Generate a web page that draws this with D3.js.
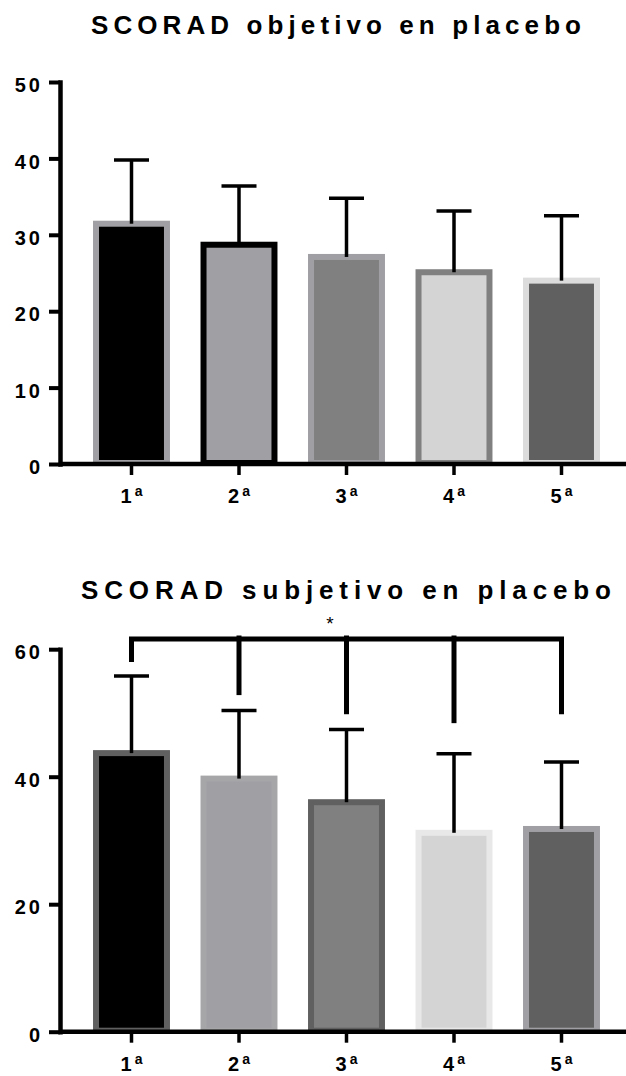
<!DOCTYPE html>
<html lang="es">
<head>
  <meta charset="UTF-8">
  <title>SCORAD en placebo</title>
  <script src="https://d3js.org/d3.v7.min.js"></script>
  <style>
    body { margin: 0; background: #fff; }
    text { font-family: 'Liberation Sans', Arial, sans-serif; }
  </style>
</head>
<body>
  <div id="root"></div>
  <script>
    // visitas
    const visits = ['1', '2', '3', '4', '5']

    // SCORAD objetivo (media, DE)
    const objMean = [31.45, 28.7, 27.1, 25.1, 24.0]
    const objSD = [8.35, 7.7, 7.7, 8.0, 8.5]
    const objTicks = [0, 10, 20, 30, 40, 50]

    // SCORAD subjetivo (media, DE)
    const subMean = [43.7, 39.7, 36.0, 31.2, 31.8]
    const subSD = [12.1, 10.7, 11.4, 12.4, 10.5]
    const subTicks = [0, 20, 40, 60]

    // corchete de significación: nivel y final de cada brazo
    const bracketLevel = 61.6
    const bracketEnds = [58.0, 52.8, 49.8, 48.4, 49.8]

    // colores (relleno / borde)
    const objFill = ['#000000', '#a0a0a4', '#808080', '#d4d4d4', '#606060']
    const objStroke = ['#a0a0a4', '#000000', '#a0a0a4', '#808080', '#dcdcdc']
    const subFill = ['#000000', '#a0a0a4', '#808080', '#d4d4d4', '#606060']
    const subStroke = ['#606060', '#a6a6a9', '#606060', '#e8e8e8', '#a0a0a4']

    const width = 626, height = 1076
    const axisX = 60

    const svg = d3.select('#root')
      .append('svg')
      .attr('width', width)
      .attr('height', height)

    const x = d3.scaleBand()
      .domain(visits)
      .range([77.75, 615.25])
      .paddingInner(0.34)
      .paddingOuter(0.17)

    function drawChart(cfg) {
      const y = d3.scaleLinear().domain([0, cfg.max]).range([cfg.bottom, cfg.top])
      const g = svg.append('g')

      // título
      g.append('text')
        .attr('x', cfg.titleX)
        .attr('y', cfg.titleY)
        .attr('text-anchor', 'middle')
        .attr('font-size', 26)
        .attr('font-weight', 'bold')
        .attr('textLength', cfg.titleLen)
        .attr('lengthAdjust', 'spacing')
        .text(cfg.title)

      // barras
      g.selectAll('rect.bar')
        .data(cfg.mean)
        .join('rect')
        .attr('class', 'bar')
        .attr('x', (d, i) => x(visits[i]))
        .attr('y', d => y(d))
        .attr('width', x.bandwidth())
        .attr('height', d => y(0) - y(d) - 1)
        .attr('fill', (d, i) => cfg.fill[i])
        .attr('stroke', (d, i) => cfg.stroke[i])
        .attr('stroke-width', 6)

      // barras de error (solo hacia arriba)
      const err = g.selectAll('g.err')
        .data(cfg.mean)
        .join('g')
        .attr('class', 'err')
        .attr('stroke', '#000')
        .attr('stroke-width', 3.5)

      err.append('line')
        .attr('x1', (d, i) => x(visits[i]) + x.bandwidth() / 2)
        .attr('x2', (d, i) => x(visits[i]) + x.bandwidth() / 2)
        .attr('y1', d => y(d))
        .attr('y2', (d, i) => y(d + cfg.sd[i]))

      err.append('line')
        .attr('x1', (d, i) => x(visits[i]) + x.bandwidth() / 2 - 17.5)
        .attr('x2', (d, i) => x(visits[i]) + x.bandwidth() / 2 + 17.5)
        .attr('y1', (d, i) => y(d + cfg.sd[i]))
        .attr('y2', (d, i) => y(d + cfg.sd[i]))

      // eje Y
      const yAxis = g.append('g')
        .attr('transform', `translate(${axisX},0)`)
        .call(d3.axisLeft(y).tickValues(cfg.ticks).tickSize(11).tickSizeOuter(0).tickPadding(6))
        .attr('font-family', null)
        .attr('font-size', 20)
        .attr('font-weight', 'bold')
      yAxis.select('.domain')
        .attr('stroke', '#000')
        .attr('stroke-width', 4.5)
        .attr('stroke-linecap', 'square')
      yAxis.selectAll('.tick line')
        .attr('stroke', '#000')
        .attr('stroke-width', 4)
      yAxis.selectAll('.tick text')
        .attr('fill', '#000')
        .attr('letter-spacing', 3)
        .attr('dy', '0.48em')

      // eje X
      g.append('line')
        .attr('x1', axisX)
        .attr('x2', width)
        .attr('y1', y(0))
        .attr('y2', y(0))
        .attr('stroke', '#000')
        .attr('stroke-width', 4.5)

      const xAxis = g.append('g')
        .attr('transform', `translate(0,${y(0)})`)
        .call(d3.axisBottom(x).tickSize(11).tickSizeOuter(0).tickFormat(''))
        .attr('font-family', null)
        .attr('font-size', 20)
        .attr('font-weight', 'bold')
      xAxis.select('.domain').remove()
      xAxis.selectAll('.tick line')
        .attr('stroke', '#000')
        .attr('stroke-width', 3.5)
      const lbl = xAxis.selectAll('.tick text')
        .text(null)
        .attr('fill', '#000')
        .attr('y', 39)
        .attr('dy', 0)
        .attr('text-anchor', 'middle')
      lbl.append('tspan').text(d => d)
      lbl.append('tspan')
        .attr('font-size', 14)
        .attr('dx', 3)
        .attr('dy', -7)
        .text('a')

      return y
    }

    drawChart({
      title: 'SCORAD objetivo en placebo',
      titleX: 336, titleY: 34, titleLen: 490,
      max: 50, ticks: objTicks, top: 82, bottom: 464,
      mean: objMean, sd: objSD, fill: objFill, stroke: objStroke
    })

    const ySub = drawChart({
      title: 'SCORAD subjetivo en placebo',
      titleX: 346, titleY: 599, titleLen: 530,
      max: 60, ticks: subTicks, top: 649.2, bottom: 1031.7,
      mean: subMean, sd: subSD, fill: subFill, stroke: subStroke
    })

    // corchete 1ª frente al resto
    const cx = i => x(visits[i]) + x.bandwidth() / 2
    const bracket = svg.append('g')
      .attr('stroke', '#000')
      .attr('stroke-width', 5)
      .attr('fill', 'none')

    bracket.append('path')
      .attr('stroke-linecap', 'butt')
      .attr('d', `M${cx(0)},${ySub(bracketEnds[0])}V${ySub(bracketLevel)}H${cx(4)}V${ySub(bracketEnds[4])}`)

    bracket.selectAll('line')
      .data(bracketEnds.slice(1, 4))
      .join('line')
      .attr('x1', (d, i) => cx(i + 1))
      .attr('x2', (d, i) => cx(i + 1))
      .attr('y1', ySub(bracketLevel) - 3.5)
      .attr('y2', d => ySub(d))

    svg.append('text')
      .attr('x', 330)
      .attr('y', ySub(bracketLevel) - 9)
      .attr('text-anchor', 'middle')
      .attr('font-size', 19)
      .text('*')
  </script>
</body>
</html>
